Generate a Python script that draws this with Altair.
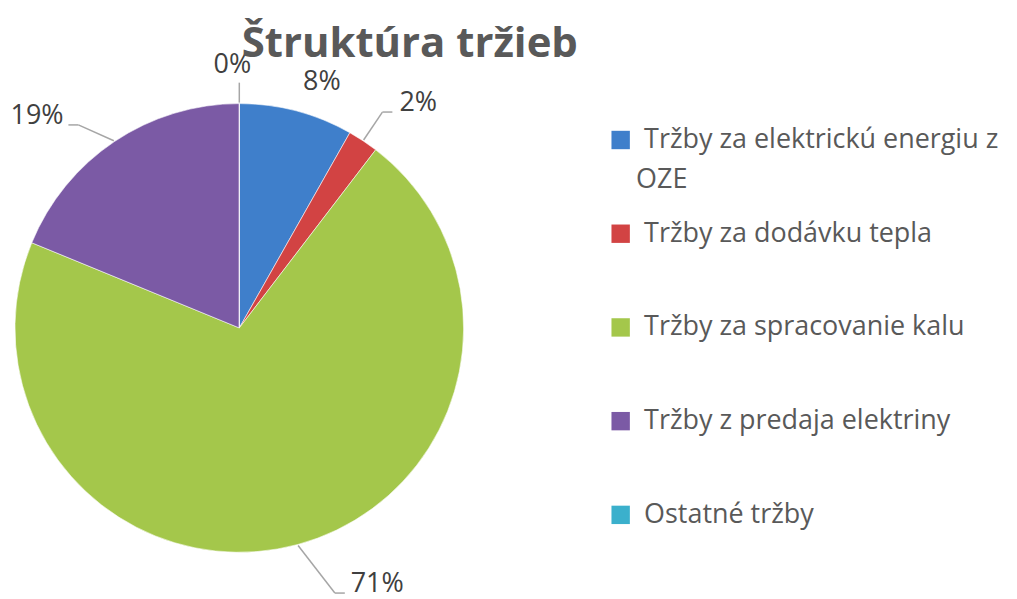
import altair as alt
import pandas as pd
import numpy as np

# ---- data ----
categories = [
    "Tržby za elektrickú energiu z OZE",
    "Tržby za dodávku tepla",
    "Tržby za spracovanie kalu",
    "Tržby z predaja elektriny",
    "Ostatné tržby",
]
values = [8.2, 2.2, 70.8, 18.8, 0.0]
colors = ["#3F7FCB", "#D24343", "#A4C74B", "#7B5AA5", "#3BB0CC"]
title_text = "Štruktúra tržieb"
first_label_lines = ["Tržby za elektrickú energiu z", "OZE"]

# ---- layout / style (not data) ----
R = 225
W = H = 2 * R
LABEL_R = 262
FONT = "Open Sans"
FS = 27
label_style = [
    dict(dx=16, dy=7, leader=None),
    dict(dx=35, dy=-7, leader="right"),
    dict(dx=70, dy=4, leader="right"),
    dict(dx=-57, dy=5, leader="left"),
    dict(dx=-7, dy=-2, leader="up"),
]

vals = np.array(values, dtype=float)
total = vals.sum()
cum = np.cumsum(vals)
mid = (cum - vals / 2) / total * 2 * np.pi

df = pd.DataFrame({"cat": categories, "value": values, "order": range(len(values))})

labels, tx, ty = [], [], []
lx1, ly1, lx2, ly2, lx3, ly3 = [], [], [], [], [], []
for i, v in enumerate(vals):
    lab = f"{round(v / total * 100)}%"
    st = label_style[i]
    x = LABEL_R * np.sin(mid[i]) + st["dx"]
    yd = -LABEL_R * np.cos(mid[i]) + st["dy"]  # downward
    labels.append(lab)
    tx.append(x)
    ty.append(-yd)
    if st["leader"]:
        ex, ey = (R + 1) * np.sin(mid[i]), -(R + 1) * np.cos(mid[i])
        hw = 7 + 6.5 * len(lab)
        if st["leader"] == "right":
            hx, hy = x - hw - 6, yd + 9
            kx, ky = hx - 10, hy
        elif st["leader"] == "left":
            hx, hy = x + hw + 5, yd + 9
            kx, ky = hx + 10, hy
        else:
            kx, ky = ex, yd + 18
            hx, hy = kx, ky
        lx1.append(ex); ly1.append(-ey)
        lx2.append(kx); ly2.append(-ky)
        lx3.append(hx); ly3.append(-hy)

lab_df = pd.DataFrame({"label": labels, "tx": tx, "ty": ty})
lead_df = pd.DataFrame({"x1": lx1, "y1": ly1, "x2": lx2, "y2": ly2, "x3": lx3, "y3": ly3})

xs = alt.Scale(domain=[-R, R], nice=False, zero=False)
ys = alt.Scale(domain=[-R, R], nice=False, zero=False)

legend = alt.Legend(
    orient="none",
    legendX=594,
    legendY=23,
    title=None,
    symbolType="square",
    symbolSize=340,
    symbolStrokeWidth=0,
    labelFont=FONT,
    labelFontSize=FS,
    labelColor="#595959",
    labelOffset=10,
    labelLimit=0,
    rowPadding=66,
    padding=0,
    labelExpr=f"datum.label == '{categories[0]}' ? '{first_label_lines[0]}' : datum.label",
)

pie = alt.Chart(df).mark_arc(outerRadius=R, stroke="white", strokeWidth=0.8, strokeOpacity=0.7).encode(
    theta=alt.Theta("value:Q", stack=True),
    color=alt.Color("cat:N", scale=alt.Scale(domain=categories, range=colors), sort=categories, legend=legend),
    order=alt.Order("order:Q"),
)

rule1 = alt.Chart(lead_df).mark_rule(color="#A6A6A6", strokeWidth=1.5).encode(
    x=alt.X("x1:Q", scale=xs, axis=None), y=alt.Y("y1:Q", scale=ys, axis=None),
    x2="x2:Q", y2="y2:Q",
)
rule2 = alt.Chart(lead_df).mark_rule(color="#A6A6A6", strokeWidth=1.5).encode(
    x=alt.X("x2:Q", scale=xs, axis=None), y=alt.Y("y2:Q", scale=ys, axis=None),
    x2="x3:Q", y2="y3:Q",
)
text = alt.Chart(lab_df).mark_text(font=FONT, fontSize=FS, color="#404040", baseline="middle", align="center").encode(
    x=alt.X("tx:Q", scale=xs, axis=None),
    y=alt.Y("ty:Q", scale=ys, axis=None),
    text="label:N",
)
# continuation line of the first legend label
oze = alt.Chart(pd.DataFrame({"t": [first_label_lines[1]]})).mark_text(
    font=FONT, fontSize=FS, color="#595959", baseline="middle", align="left"
).encode(x=alt.value(623), y=alt.value(77), text="t:N")

chart = alt.layer(pie, rule1, rule2, text, oze).properties(
    width=W,
    height=H,
    title=alt.TitleParams(
        title_text, font=FONT, fontSize=42, fontWeight="bold", color="#595959",
        anchor="middle", dx=171, baseline="alphabetic", offset=0, dy=48,
    ),
    padding={"left": 7, "top": 95, "right": 547, "bottom": 48},
    autosize=alt.AutoSizeParams(type="none"),
).configure_view(stroke=None)

chart.save("out.html", embed_options={"renderer": "svg", "actions": False})
